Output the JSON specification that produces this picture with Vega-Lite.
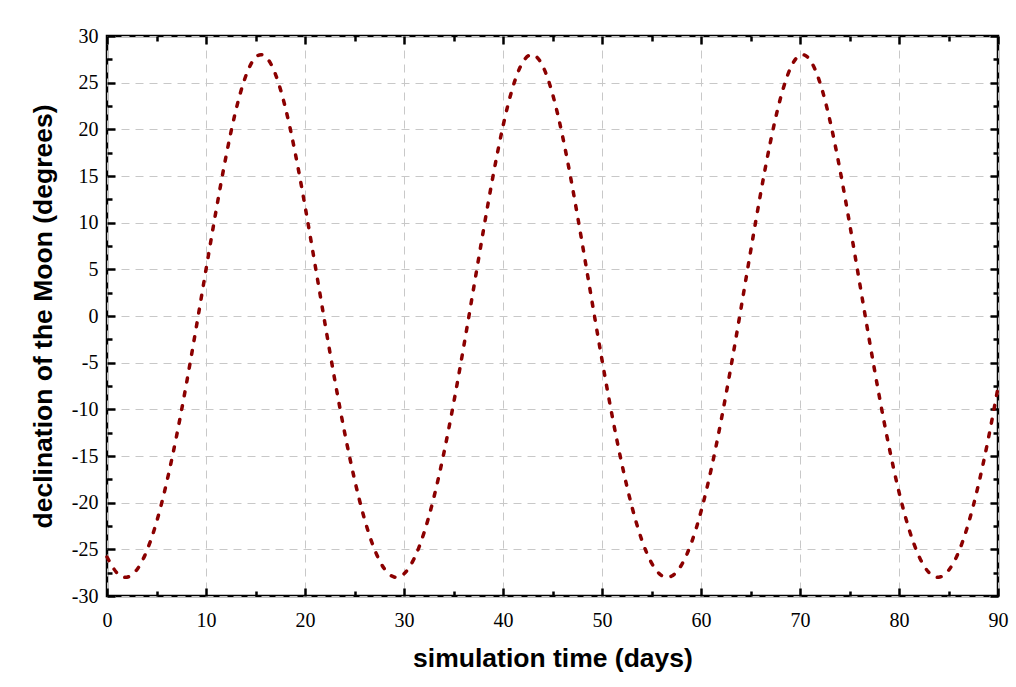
{
  "$schema": "https://vega.github.io/schema/vega-lite/v6.json",
  "width": 891,
  "height": 560,
  "autosize": {"type": "none"},
  "padding": {"left": 107, "top": 36, "right": 18, "bottom": 91},
  "background": "white",
  "config": {
    "view": {"stroke": "black", "strokeWidth": 2.5},
    "axis": {
      "domain": false,
      "labelFont": "Liberation Serif",
      "labelFontSize": 20,
      "labelColor": "black",
      "titleFont": "Liberation Sans",
      "titleFontWeight": "bold",
      "titleFontSize": 26.5,
      "titleColor": "black",
      "tickColor": "black",
      "tickWidth": 2.5,
      "gridColor": "#c8c8c8",
      "gridWidth": 1,
      "gridDash": [8, 6]
    }
  },
  "data": {"values": [
    {"t":0,"dec":-25.82},{"t":1,"dec":-27.52},{"t":2,"dec":-27.99},{"t":3,"dec":-27.21},{"t":4,"dec":-25.21},
    {"t":5,"dec":-22.09},{"t":6,"dec":-17.96},{"t":7,"dec":-13.00},{"t":8,"dec":-7.39},{"t":9,"dec":-1.32},
    {"t":10,"dec":4.97},{"t":11,"dec":11.18},{"t":12,"dec":16.98},{"t":13,"dec":21.96},{"t":14,"dec":25.66},
    {"t":15,"dec":27.70},{"t":16,"dec":27.80},{"t":17,"dec":25.95},{"t":18,"dec":22.39},{"t":19,"dec":17.53},
    {"t":20,"dec":11.79},{"t":21,"dec":5.60},{"t":22,"dec":-0.69},{"t":23,"dec":-6.80},{"t":24,"dec":-12.47},
    {"t":25,"dec":-17.50},{"t":26,"dec":-21.72},{"t":27,"dec":-24.95},{"t":28,"dec":-27.06},{"t":29,"dec":-27.97},
    {"t":30,"dec":-27.62},{"t":31,"dec":-26.04},{"t":32,"dec":-23.30},{"t":33,"dec":-19.51},{"t":34,"dec":-14.82},
    {"t":35,"dec":-9.41},{"t":36,"dec":-3.47},{"t":37,"dec":2.76},{"t":38,"dec":9.04},{"t":39,"dec":15.03},
    {"t":40,"dec":20.34},{"t":41,"dec":24.54},{"t":42,"dec":27.20},{"t":43,"dec":27.99},{"t":44,"dec":26.81},
    {"t":45,"dec":23.81},{"t":46,"dec":19.34},{"t":47,"dec":13.87},{"t":48,"dec":7.80},{"t":49,"dec":1.50},
    {"t":50,"dec":-4.70},{"t":51,"dec":-10.55},{"t":52,"dec":-15.82},{"t":53,"dec":-20.34},{"t":54,"dec":-23.94},
    {"t":55,"dec":-26.45},{"t":56,"dec":-27.79},{"t":57,"dec":-27.89},{"t":58,"dec":-26.73},{"t":59,"dec":-24.39},
    {"t":60,"dec":-20.95},{"t":61,"dec":-16.56},{"t":62,"dec":-11.38},{"t":63,"dec":-5.60},{"t":64,"dec":0.56},
    {"t":65,"dec":6.86},{"t":66,"dec":12.99},{"t":67,"dec":18.58},{"t":68,"dec":23.22},{"t":69,"dec":26.47},
    {"t":70,"dec":27.94},{"t":71,"dec":27.44},{"t":72,"dec":25.05},{"t":73,"dec":21.05},{"t":74,"dec":15.88},
    {"t":75,"dec":9.96},{"t":76,"dec":3.70},{"t":77,"dec":-2.56},{"t":78,"dec":-8.55},{"t":79,"dec":-14.05},
    {"t":80,"dec":-18.86},{"t":81,"dec":-22.80},{"t":82,"dec":-25.70},{"t":83,"dec":-27.46},{"t":84,"dec":-28.00},
    {"t":85,"dec":-27.27},{"t":86,"dec":-25.34},{"t":87,"dec":-22.27},{"t":88,"dec":-18.19},{"t":89,"dec":-13.27},
    {"t":90,"dec":-7.68}
  ]},
  "layer": [
    {
      "mark": {"type": "line", "color": "#8b0000", "strokeWidth": 3.5, "strokeDash": [4, 10], "strokeCap": "round", "interpolate": "natural"},
      "encoding": {
        "x": {"field": "t", "type": "quantitative", "scale": {"domain": [0, 90], "nice": false},
          "axis": {"orient": "bottom", "title": "simulation time (days)", "values": [0,10,20,30,40,50,60,70,80,90], "grid": true, "tickSize": -8, "labelPadding": 22, "titlePadding": 15, "labelFlush": false}},
        "y": {"field": "dec", "type": "quantitative", "scale": {"domain": [-30, 30], "nice": false, "zero": false},
          "axis": {"orient": "left", "title": "declination of the Moon (degrees)", "values": [-30,-25,-20,-15,-10,-5,0,5,10,15,20,25,30], "grid": true, "tickSize": -8, "labelPadding": 17, "titlePadding": 14, "labelFlush": false, "labelExpr": "replace(datum.label, '\u2212', '-')"}}
      }
    },
    {
      "mark": {"type": "line", "strokeOpacity": 0},
      "encoding": {
        "x": {"field": "t", "type": "quantitative", "axis": {"orient": "top", "title": null, "labels": false, "grid": false, "values": [0,10,20,30,40,50,60,70,80,90], "tickSize": -8}},
        "y": {"field": "dec", "type": "quantitative", "axis": {"orient": "right", "title": null, "labels": false, "grid": false, "values": [-30,-25,-20,-15,-10,-5,0,5,10,15,20,25,30], "tickSize": -8}}
      }
    },
    {
      "mark": {"type": "line", "strokeOpacity": 0},
      "encoding": {
        "x": {"field": "t", "type": "quantitative", "axis": {"orient": "bottom", "title": null, "labels": false, "grid": false, "values": [5,15,25,35,45,55,65,75,85], "tickSize": -5}},
        "y": {"field": "dec", "type": "quantitative", "axis": {"orient": "left", "title": null, "labels": false, "grid": false, "values": [-27.5,-22.5,-17.5,-12.5,-7.5,-2.5,2.5,7.5,12.5,17.5,22.5,27.5], "tickSize": -5}}
      }
    },
    {
      "mark": {"type": "line", "strokeOpacity": 0},
      "encoding": {
        "x": {"field": "t", "type": "quantitative", "axis": {"orient": "top", "title": null, "labels": false, "grid": false, "values": [5,15,25,35,45,55,65,75,85], "tickSize": -5}},
        "y": {"field": "dec", "type": "quantitative", "axis": {"orient": "right", "title": null, "labels": false, "grid": false, "values": [-27.5,-22.5,-17.5,-12.5,-7.5,-2.5,2.5,7.5,12.5,17.5,22.5,27.5], "tickSize": -5}}
      }
    }
  ],
  "resolve": {"axis": {"x": "independent", "y": "independent"}}
}
